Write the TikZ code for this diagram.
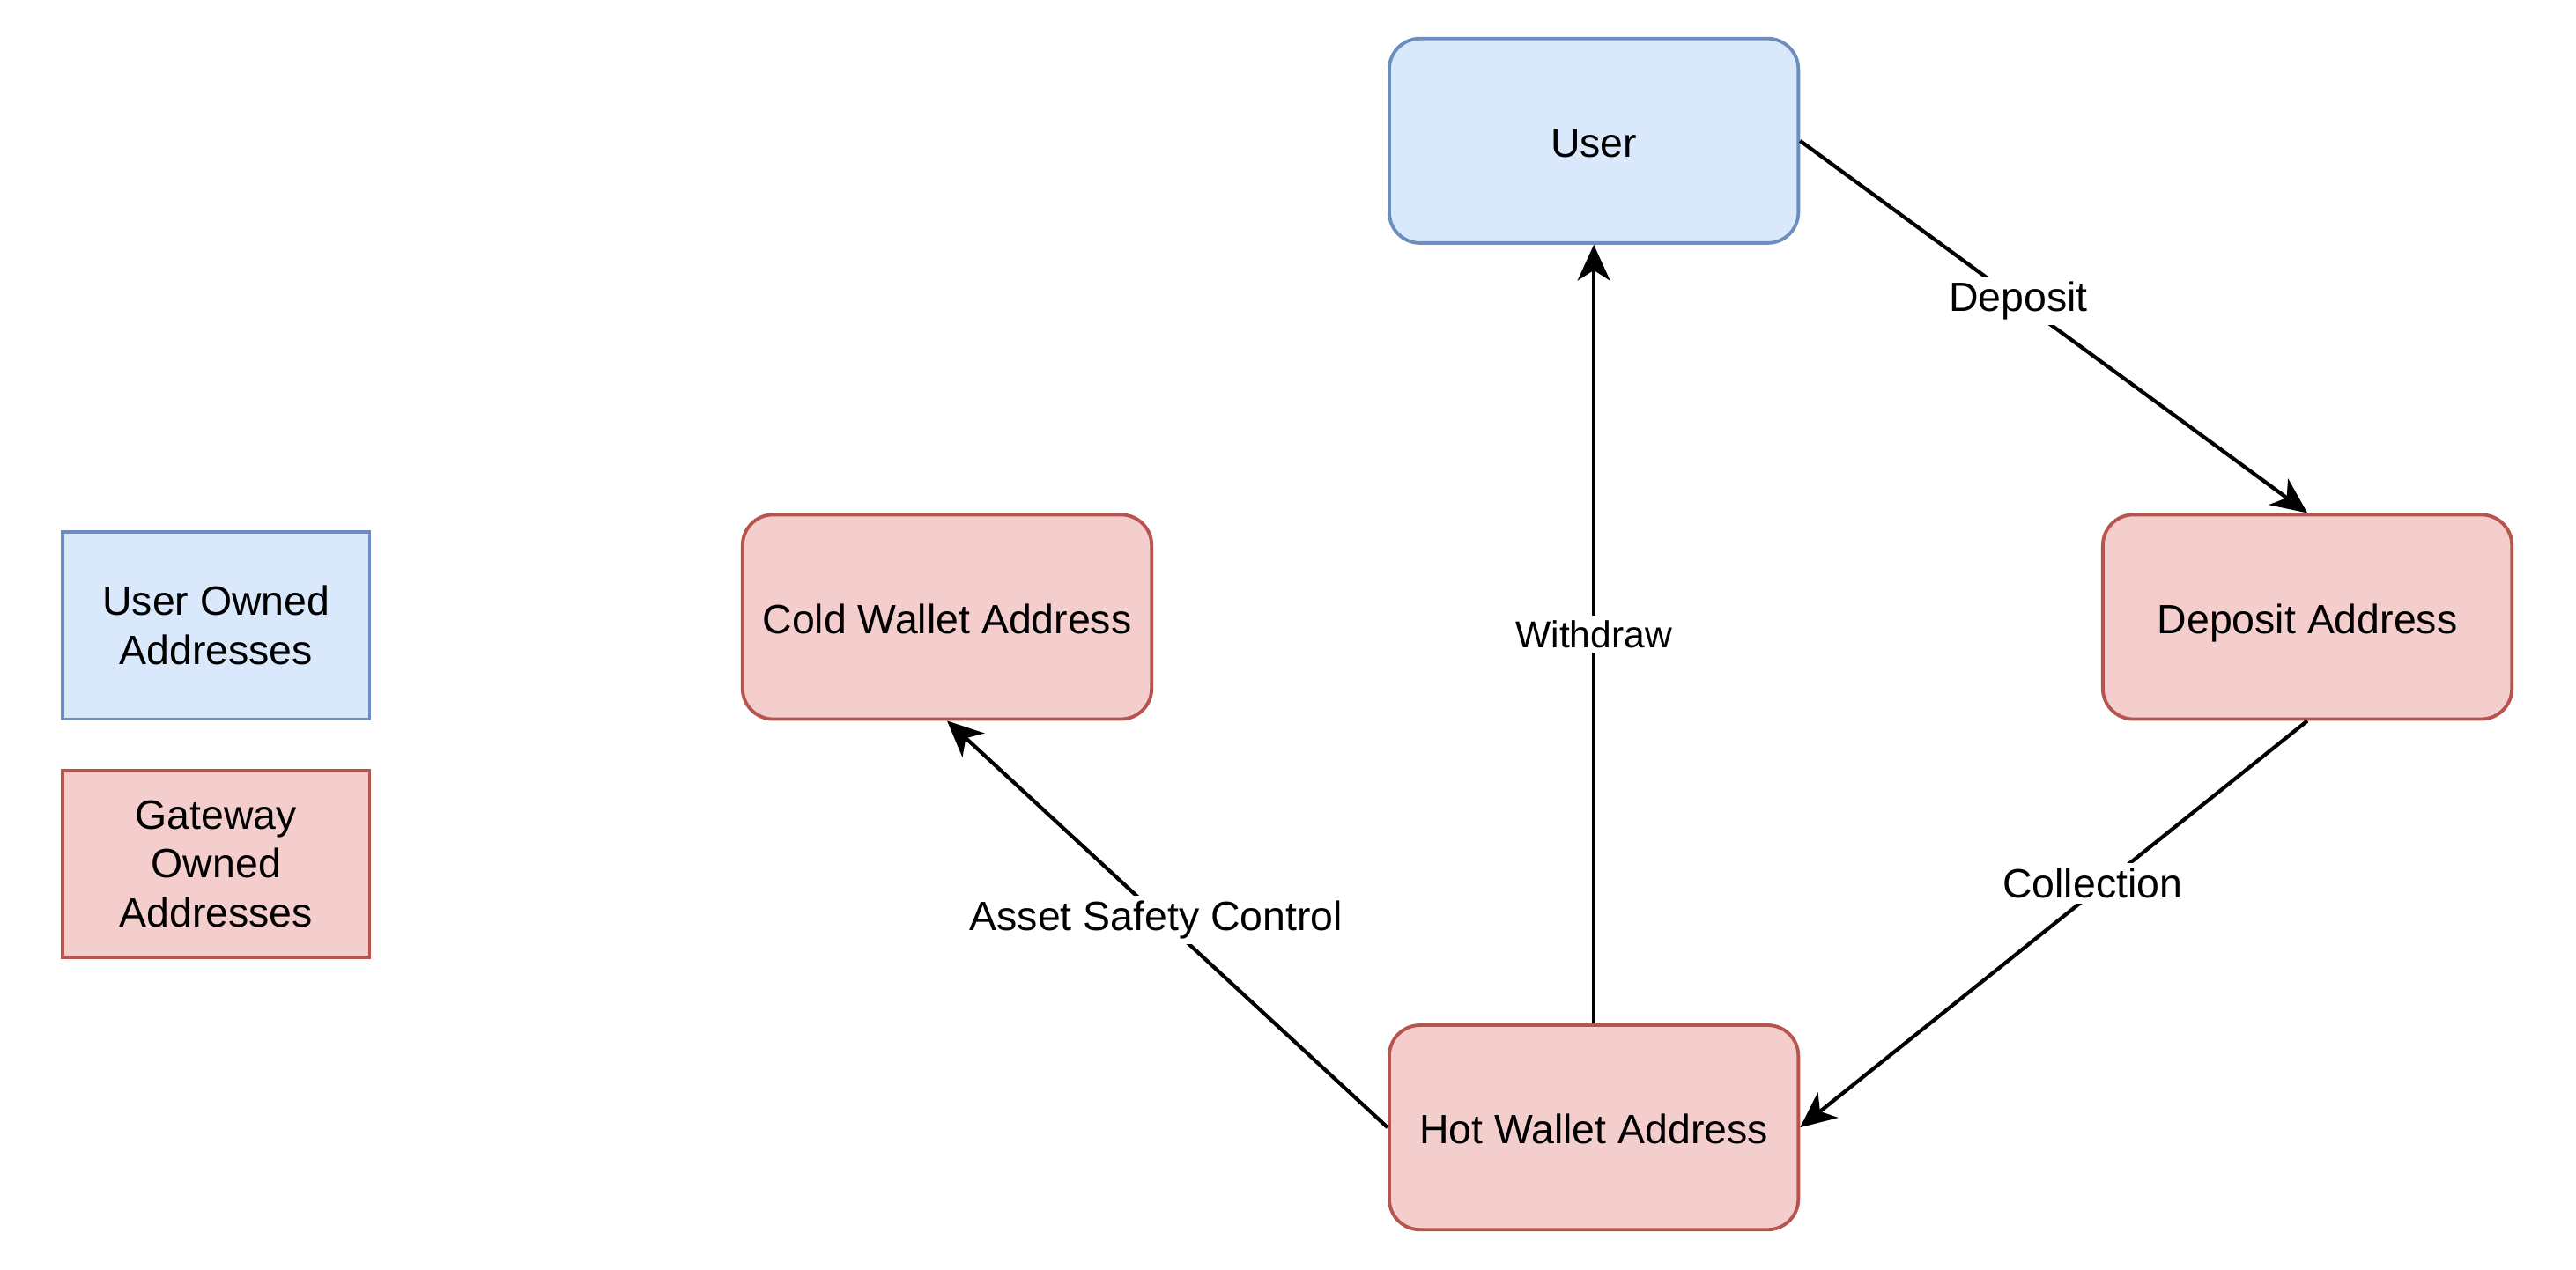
\documentclass[tikz,border=0pt]{standalone}
\usepackage{fontspec}
\setmainfont{Liberation Sans}
\usetikzlibrary{arrows.meta}
\definecolor{bfill}{HTML}{DAE8FC}
\definecolor{bdraw}{HTML}{6C8EBF}
\definecolor{rfill}{HTML}{F4CECC}
\definecolor{rdraw}{HTML}{B85450}
\begin{document}
\begin{tikzpicture}[x=1pt,y=-1pt,
  box/.style={rounded corners=9pt, minimum width=120pt, minimum height=60pt,
    line width=1pt, inner sep=0pt, text height=11pt, text depth=1.4pt,
    font=\fontsize{12}{14.4}\selectfont},
  userbox/.style={box, fill=bfill, draw=bdraw},
  gwbox/.style={box, fill=rfill, draw=rdraw},
  legendbox/.style={minimum width=90pt, minimum height=55pt, line width=1pt,
    inner sep=0pt, align=center, font=\fontsize{12}{14.4}\selectfont},
  conn/.style={line width=1.1pt, -{Stealth[length=10.5pt,width=9.5pt,inset=3pt]}},
  lbl/.style={fill=white, inner sep=1.5pt, font=\fontsize{12}{14.4}\selectfont},
  lblsmall/.style={lbl, font=\fontsize{11}{13.2}\selectfont}]
\useasboundingbox (0,0) rectangle (755.6,372.6);
\node[userbox] (user) at (467.5,41.3) {User};
\node[gwbox] (cold) at (277.8,181) {Cold Wallet Address};
\node[gwbox] (dep) at (676.8,181) {Deposit Address};
\node[gwbox] (hot) at (467.5,330.8) {Hot Wallet Address};
\node[legendbox, fill=bfill, draw=bdraw] (leguser) at (63.4,183.5) {User Owned\\Addresses};
\node[legendbox, fill=rfill, draw=rdraw] (leggw) at (63.4,253.5) {Gateway\\Owned\\Addresses};
\draw[conn] (user.east) -- node[lbl, pos=0.43] {Deposit} (dep.north);
\draw[conn] (dep.south) -- node[lbl, pos=0.40, xshift=-3.5pt] {Collection} (hot.east);
\draw[conn] (hot.north) -- node[lblsmall, pos=0.5] {Withdraw} (user.south);
\draw[conn] (hot.west) -- node[lbl, pos=0.51, xshift=-2pt] {Asset Safety Control} (cold.south);
\end{tikzpicture}
\end{document}
